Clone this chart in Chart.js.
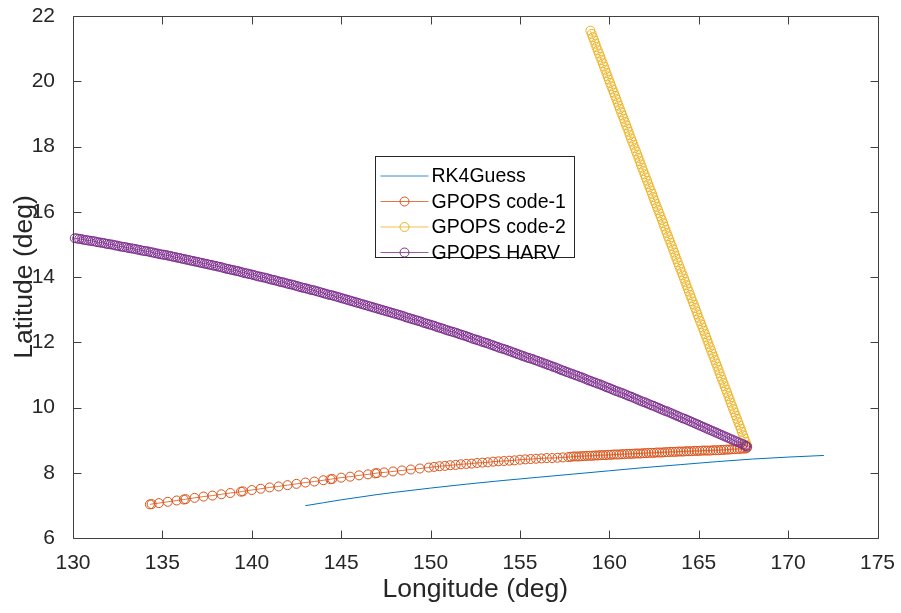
<!DOCTYPE html>
<html>
<head>
<meta charset="utf-8">
<script src="https://cdn.jsdelivr.net/npm/chart.js@4.4.1/dist/chart.umd.min.js"></script>
<style>
  html, body { margin: 0; padding: 0; background: #fff; }
  #wrap { width: 901px; height: 613px; }
</style>
</head>
<body>
<div id="wrap"><canvas id="trajChart" width="901" height="613"></canvas></div>
<script>
const lonTicks = [130, 135, 140, 145, 150, 155, 160, 165, 170, 175];
const latTicks = [6, 8, 10, 12, 14, 16, 18, 20, 22];
const seriesNames = ["RK4Guess", "GPOPS code-1", "GPOPS code-2", "GPOPS HARV"];
const seriesColors = ["#0072BD", "#D95319", "#EDB120", "#7E2F8E"];

// RK4 initial guess
const rkLon = [143,144,145,146,147,148,150,152,154,156,158,160,162,164,166,168,170,172];
const rkLat = [6.99,7.08,7.17,7.25,7.33,7.40,7.53,7.65,7.76,7.86,7.96,8.06,8.16,8.25,8.34,8.42,8.48,8.53];

// GPOPS code-1
const c1Lon = [134.3,134.4,134.8,135.3,135.8,136.2,136.3,136.8,137.3,137.8,
  138.3,138.8,139.4,139.5,140.0,140.5,141.0,141.5,142.0,142.5,
  143.0,143.5,144.0,144.4,144.5,145.0,145.5,146.0,146.5,146.9,
  147.0,147.4,147.9,148.4,148.9,149.4,149.9,150.2,150.5,150.8,
  151.1,151.4,151.7,152.0,152.3,152.6,152.9,153.2,153.5,153.8,
  154.1,154.4,154.7,155.0,155.3,155.6,155.9,156.2,156.5,156.8,
  157.1,157.4,157.7,
  157.85,158.0,158.15,158.3,158.45,158.6,158.75,158.9,159.05,159.2,
  159.35,159.5,159.65,159.8,159.95,160.1,160.25,160.4,160.55,160.7,
  160.85,161.0,161.15,161.3,161.45,161.6,161.75,161.9,162.05,162.2,
  162.35,162.5,162.65,162.8,162.95,163.1,163.25,163.4,163.55,163.7,
  163.85,164.0,164.15,164.3,164.45,164.6,164.75,164.9,165.05,165.2,
  165.35,165.5,165.65,165.8,165.95,166.1,166.25,166.4,166.55,166.7,
  166.85,167.0,167.15,167.3,167.45,167.6,167.7];
const c1Lat = [7.03,7.04,7.07,7.11,7.15,7.18,7.19,7.23,7.27,7.30,
  7.34,7.38,7.42,7.43,7.47,7.51,7.55,7.58,7.62,7.66,
  7.70,7.73,7.77,7.80,7.81,7.85,7.88,7.92,7.95,7.98,
  7.99,8.01,8.04,8.07,8.10,8.13,8.16,8.18,8.20,8.21,
  8.23,8.24,8.26,8.27,8.28,8.30,8.31,8.32,8.34,8.35,
  8.36,8.37,8.38,8.40,8.41,8.42,8.43,8.44,8.45,8.45,
  8.46,8.47,8.48,
  8.49,8.50,8.50,8.50,8.51,8.51,8.52,8.52,8.52,8.53,
  8.53,8.54,8.54,8.54,8.55,8.55,8.56,8.56,8.56,8.57,
  8.57,8.58,8.58,8.58,8.59,8.59,8.59,8.60,8.60,8.61,
  8.61,8.61,8.62,8.62,8.62,8.63,8.63,8.64,8.64,8.64,
  8.65,8.65,8.65,8.66,8.66,8.66,8.67,8.67,8.67,8.68,
  8.68,8.68,8.68,8.69,8.69,8.69,8.70,8.70,8.71,8.71,
  8.72,8.72,8.73,8.73,8.74,8.74,8.76];

// GPOPS code-2
const c2Lon = [158.94,159.01,159.08,159.15,159.22,159.28,159.35,159.42,159.49,159.56,
  159.63,159.70,159.77,159.84,159.90,159.97,160.04,160.11,160.18,160.25,
  160.32,160.39,160.46,160.52,160.59,160.66,160.73,160.80,160.87,160.94,
  161.01,161.08,161.14,161.21,161.28,161.35,161.42,161.49,161.56,161.63,
  161.70,161.76,161.83,161.90,161.97,162.04,162.11,162.18,162.25,162.32,
  162.39,162.45,162.52,162.59,162.66,162.73,162.80,162.87,162.94,163.01,
  163.07,163.14,163.21,163.28,163.35,163.42,163.49,163.56,163.63,163.69,
  163.76,163.83,163.90,163.97,164.04,164.11,164.18,164.25,164.31,164.38,
  164.45,164.52,164.59,164.66,164.73,164.80,164.87,164.93,165.00,165.07,
  165.14,165.21,165.28,165.35,165.42,165.49,165.55,165.62,165.69,165.76,
  165.83,165.90,165.97,166.04,166.11,166.17,166.24,166.31,166.38,166.45,
  166.52,166.59,166.66,166.73,166.79,166.86,166.93,167.00,167.07,167.14,
  167.21,167.28,167.35,167.41,167.48,167.55,167.62,167.69,167.72];
const c2Lat = [21.55,21.45,21.35,21.25,21.15,21.05,20.95,20.85,20.75,20.65,
  20.55,20.45,20.35,20.25,20.15,20.05,19.95,19.85,19.75,19.65,
  19.55,19.45,19.35,19.25,19.15,19.05,18.95,18.85,18.75,18.65,
  18.55,18.45,18.35,18.25,18.15,18.05,17.95,17.85,17.75,17.65,
  17.55,17.45,17.35,17.25,17.15,17.05,16.95,16.85,16.75,16.65,
  16.55,16.45,16.35,16.25,16.15,16.05,15.95,15.85,15.75,15.65,
  15.55,15.45,15.35,15.25,15.15,15.05,14.95,14.85,14.75,14.65,
  14.55,14.45,14.35,14.25,14.15,14.05,13.95,13.85,13.75,13.65,
  13.55,13.45,13.35,13.25,13.15,13.05,12.95,12.85,12.75,12.65,
  12.55,12.45,12.35,12.25,12.15,12.05,11.95,11.85,11.75,11.65,
  11.55,11.45,11.35,11.25,11.15,11.05,10.95,10.85,10.75,10.65,
  10.55,10.45,10.35,10.25,10.15,10.05,9.95,9.85,9.75,9.65,
  9.55,9.45,9.35,9.25,9.15,9.05,8.95,8.85,8.80];

// GPOPS HARV
const hvLon = [130.1,130.23,130.35,130.48,130.6,130.73,130.85,130.98,131.1,131.23,131.35,131.48,131.6,131.73,131.85,131.98,
  132.1,132.23,132.35,132.48,132.6,132.73,132.85,132.98,133.1,133.23,133.35,133.48,133.6,133.73,133.85,133.98,
  134.1,134.23,134.35,134.48,134.6,134.73,134.85,134.98,135.1,135.23,135.35,135.48,135.6,135.73,135.85,135.98,
  136.1,136.23,136.35,136.48,136.6,136.73,136.85,136.98,137.1,137.23,137.35,137.48,137.6,137.73,137.85,137.98,
  138.1,138.23,138.35,138.48,138.6,138.73,138.85,138.98,139.1,139.23,139.35,139.48,139.6,139.73,139.85,139.98,
  140.1,140.23,140.35,140.48,140.6,140.73,140.85,140.98,141.1,141.23,141.35,141.48,141.6,141.73,141.85,141.98,
  142.1,142.23,142.35,142.48,142.6,142.73,142.85,142.98,143.1,143.23,143.35,143.48,143.6,143.73,143.85,143.98,
  144.1,144.23,144.35,144.48,144.6,144.73,144.85,144.98,145.1,145.23,145.35,145.48,145.6,145.73,145.85,145.98,
  146.1,146.23,146.35,146.48,146.6,146.73,146.85,146.98,147.1,147.23,147.35,147.48,147.6,147.73,147.85,147.98,
  148.1,148.23,148.35,148.48,148.6,148.73,148.85,148.98,149.1,149.23,149.35,149.48,149.6,149.73,149.85,149.98,
  150.1,150.23,150.35,150.48,150.6,150.73,150.85,150.98,151.1,151.23,151.35,151.48,151.6,151.73,151.85,151.98,
  152.1,152.23,152.35,152.48,152.6,152.73,152.85,152.98,153.1,153.23,153.35,153.48,153.6,153.73,153.85,153.98,
  154.1,154.23,154.35,154.48,154.6,154.73,154.85,154.98,155.1,155.23,155.35,155.48,155.6,155.73,155.85,155.98,
  156.1,156.23,156.35,156.48,156.6,156.73,156.85,156.98,157.1,157.23,157.35,157.48,157.6,157.73,157.85,157.98,
  158.1,158.23,158.35,158.48,158.6,158.73,158.85,158.98,159.1,159.23,159.35,159.48,159.6,159.73,159.85,159.98,
  160.1,160.23,160.35,160.48,160.6,160.73,160.85,160.98,161.1,161.23,161.35,161.48,161.6,161.73,161.85,161.98,
  162.1,162.23,162.35,162.48,162.6,162.73,162.85,162.98,163.1,163.23,163.35,163.48,163.6,163.73,163.85,163.98,
  164.1,164.23,164.35,164.48,164.6,164.73,164.85,164.98,165.1,165.23,165.35,165.48,165.6,165.73,165.85,165.98,
  166.1,166.23,166.35,166.48,166.6,166.73,166.85,166.98,167.1,167.23,167.35,167.48,167.6,167.65,167.7];
const hvLat = [15.19,15.18,15.17,15.16,15.14,15.13,15.12,15.11,15.10,15.09,15.07,15.06,15.05,15.04,15.02,15.01,
  15.00,14.99,14.97,14.96,14.94,14.93,14.92,14.91,14.89,14.88,14.87,14.86,14.84,14.83,14.81,14.80,
  14.79,14.78,14.76,14.75,14.73,14.72,14.70,14.69,14.68,14.67,14.65,14.64,14.62,14.61,14.59,14.58,
  14.56,14.55,14.53,14.52,14.50,14.49,14.47,14.46,14.44,14.43,14.41,14.40,14.38,14.37,14.35,14.34,
  14.32,14.31,14.29,14.27,14.25,14.24,14.22,14.21,14.19,14.18,14.16,14.14,14.12,14.11,14.09,14.08,
  14.06,14.04,14.02,14.01,13.99,13.98,13.96,13.94,13.92,13.91,13.89,13.87,13.85,13.84,13.82,13.80,
  13.78,13.77,13.75,13.73,13.71,13.69,13.67,13.66,13.64,13.62,13.60,13.59,13.57,13.55,13.53,13.51,
  13.49,13.47,13.45,13.44,13.42,13.40,13.38,13.36,13.34,13.32,13.30,13.28,13.26,13.24,13.22,13.20,
  13.18,13.16,13.14,13.12,13.10,13.08,13.06,13.04,13.02,13.00,12.98,12.96,12.94,12.92,12.90,12.88,
  12.86,12.84,12.82,12.80,12.77,12.75,12.73,12.71,12.69,12.67,12.65,12.63,12.60,12.58,12.56,12.54,
  12.52,12.50,12.47,12.45,12.43,12.41,12.38,12.36,12.34,12.32,12.30,12.28,12.25,12.23,12.21,12.19,
  12.16,12.14,12.11,12.09,12.07,12.05,12.02,12.00,11.98,11.96,11.93,11.91,11.88,11.86,11.83,11.81,
  11.79,11.77,11.74,11.72,11.69,11.67,11.64,11.62,11.59,11.57,11.54,11.52,11.50,11.48,11.45,11.43,
  11.40,11.38,11.35,11.33,11.30,11.28,11.25,11.23,11.20,11.17,11.14,11.12,11.09,11.07,11.04,11.02,
  10.99,10.97,10.94,10.92,10.89,10.86,10.83,10.81,10.78,10.76,10.73,10.71,10.68,10.65,10.62,10.60,
  10.57,10.54,10.51,10.49,10.46,10.44,10.41,10.38,10.35,10.33,10.30,10.27,10.24,10.21,10.18,10.16,
  10.13,10.10,10.07,10.05,10.02,9.99,9.96,9.93,9.90,9.88,9.85,9.82,9.79,9.76,9.73,9.70,
  9.67,9.65,9.62,9.59,9.56,9.53,9.50,9.47,9.44,9.41,9.38,9.35,9.32,9.29,9.26,9.23,
  9.20,9.17,9.14,9.11,9.08,9.05,9.02,8.99,8.96,8.93,8.90,8.87,8.84,8.82,8.80];

const FONT = "'Liberation Sans', Arial, Helvetica, sans-serif";
const TXT = "#262626";

function toXY(xs, ys) {
  return xs.map((x, i) => ({ x: x, y: ys[i] }));
}

// open circle markers on a thin line, like MATLAB 'o-'
function markerSet(idx, xs, ys, order) {
  return {
    label: seriesNames[idx],
    data: toXY(xs, ys),
    showLine: true,
    borderColor: seriesColors[idx],
    borderWidth: 0.8,
    pointStyle: 'circle',
    pointRadius: 4.5,
    pointBorderWidth: 1,
    pointBorderColor: seriesColors[idx],
    pointBackgroundColor: 'rgba(0,0,0,0)',
    clip: 6,
    order: order
  };
}

// box with inward ticks on all four sides + legend
const matlabFrame = {
  id: 'matlabFrame',
  afterDraw(chart) {
    const ctx = chart.ctx;
    const a = chart.chartArea;
    const xs = chart.scales.x, ys = chart.scales.y;
    const L = Math.round(a.left) + 0.5, R = Math.round(a.right) + 0.5;
    const T = Math.round(a.top) + 0.5, B = Math.round(a.bottom) + 0.5;
    const tl = 8;
    ctx.save();
    ctx.strokeStyle = '#404040';
    ctx.lineWidth = 1;
    ctx.beginPath();
    ctx.rect(L, T, R - L, B - T);
    lonTicks.forEach(v => {
      const px = Math.round(xs.getPixelForValue(v)) + 0.5;
      ctx.moveTo(px, B); ctx.lineTo(px, B - tl);
      ctx.moveTo(px, T); ctx.lineTo(px, T + tl);
    });
    latTicks.forEach(v => {
      const py = Math.round(ys.getPixelForValue(v)) + 0.5;
      ctx.moveTo(L, py); ctx.lineTo(L + tl, py);
      ctx.moveTo(R, py); ctx.lineTo(R - tl, py);
    });
    ctx.stroke();

    // legend
    const w = a.right - a.left, h = a.bottom - a.top;
    const lx = Math.round(a.left + w * 0.375) + 0.5;
    const ly = Math.round(a.top + h * 0.2685) + 0.5;
    const lw = 199, lh = 101;
    ctx.fillStyle = '#fff';
    ctx.fillRect(lx, ly, lw, lh);
    ctx.strokeStyle = '#262626';
    ctx.strokeRect(lx, ly, lw, lh);
    ctx.font = '19.5px ' + FONT;
    ctx.textBaseline = 'middle';
    ctx.textAlign = 'left';
    seriesNames.forEach((name, i) => {
      const cy = ly + 19.5 + i * 25.5;
      ctx.strokeStyle = seriesColors[i];
      ctx.lineWidth = 0.8;
      ctx.beginPath();
      ctx.moveTo(lx + 5, cy); ctx.lineTo(lx + 53, cy);
      ctx.stroke();
      if (i > 0) {
        ctx.lineWidth = 1;
        ctx.beginPath();
        ctx.arc(lx + 29, cy, 4.5, 0, Math.PI * 2);
        ctx.stroke();
      }
      ctx.fillStyle = '#000';
      ctx.fillText(name, lx + 56, cy + 1);
    });
    ctx.restore();
  }
};

const chartCtx = document.getElementById('trajChart').getContext('2d');

new Chart(chartCtx, {
  type: 'scatter',
  data: {
    datasets: [
      {
        label: seriesNames[0],
        data: toXY(rkLon, rkLat),
        showLine: true,
        borderColor: seriesColors[0],
        borderWidth: 1,
        pointRadius: 0,
        cubicInterpolationMode: 'monotone',
        order: 4
      },
      markerSet(1, c1Lon, c1Lat, 3),
      markerSet(2, c2Lon, c2Lat, 2),
      markerSet(3, hvLon, hvLat, 1)
    ]
  },
  options: {
    responsive: false,
    animation: false,
    layout: { padding: { top: 16, right: 23.5, left: 0, bottom: 0 } },
    plugins: {
      legend: { display: false },
      tooltip: { enabled: false }
    },
    scales: {
      x: {
        type: 'linear',
        min: 130, max: 175,
        afterBuildTicks: s => { s.ticks = lonTicks.map(v => ({ value: v })); },
        afterFit: s => { s.height = 75; s.paddingLeft = 0; s.paddingRight = 0; },
        grid: { display: false },
        border: { display: false },
        ticks: { color: TXT, padding: 5, maxRotation: 0, font: { family: FONT, size: 21 } },
        title: {
          display: true,
          text: 'Longitude (deg)',
          color: TXT,
          font: { family: FONT, size: 26.5 },
          padding: { top: 0, bottom: 7 }
        }
      },
      y: {
        type: 'linear',
        min: 6, max: 22,
        afterBuildTicks: s => { s.ticks = latTicks.map(v => ({ value: v })); },
        afterFit: s => { s.width = 73; s.paddingTop = 0; s.paddingBottom = 0; },
        grid: { display: false },
        border: { display: false },
        ticks: { color: TXT, padding: 10, font: { family: FONT, size: 21 } },
        title: {
          display: true,
          text: 'Latitude (deg)',
          color: TXT,
          font: { family: FONT, size: 26.5 },
          padding: { top: 9, bottom: 0 }
        }
      }
    }
  },
  plugins: [matlabFrame]
});
</script>
</body>
</html>
